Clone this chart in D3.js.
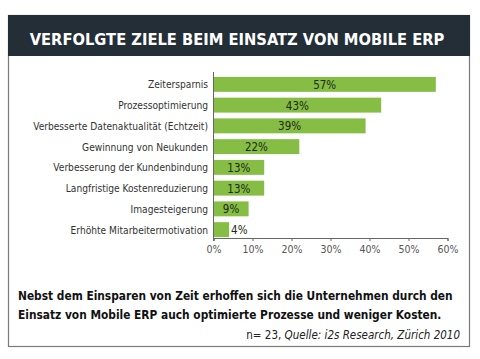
<!DOCTYPE html>
<html><head><meta charset="utf-8">
<script src="https://cdn.jsdelivr.net/npm/d3@7"></script>
<style>body{margin:0;background:#fff}svg{display:block}</style>
</head><body>
<svg id="c" width="480" height="359"></svg>
<script>
const categories = ["Zeitersparnis","Prozessoptimierung","Verbesserte Datenaktualität (Echtzeit)","Gewinnung von Neukunden","Verbesserung der Kundenbindung","Langfristige Kostenreduzierung","Imagesteigerung","Erhöhte Mitarbeitermotivation"];
const values = [57,43,39,22,13,13,9,4];
const ticks = [0,10,20,30,40,50,60];
const title = "VERFOLGTE ZIELE BEIM EINSATZ VON MOBILE ERP";
const caption = ["Nebst dem Einsparen von Zeit erhoffen sich die Unternehmen durch den","Einsatz von Mobile ERP auch optimierte Prozesse und weniger Kosten."];
const sourceA = "n= 23, ", sourceB = "Quelle: i2s Research, Zürich 2010";

const svg = d3.select("#c");
const F = "'DejaVu Sans Condensed', 'DejaVu Sans', sans-serif";

function fit(sel, target, base) {
  const w = sel.node().getComputedTextLength();
  sel.attr("font-size", base * target / w);
}

// frame
svg.append("rect").attr("x",8.5).attr("y",15.5).attr("width",461).attr("height",331)
  .attr("fill","#fff").attr("stroke","#7a7a7a").attr("stroke-width",1.2);
svg.append("rect").attr("x",8).attr("y",15).attr("width",462).attr("height",41).attr("fill","#232e37");
const t = svg.append("text").attr("x",237).attr("y",44.5).attr("text-anchor","middle")
  .attr("font-family",F).attr("font-weight","bold").attr("font-size",20).attr("fill","#fff").text(title);
fit(t, 415, 20);

const x = d3.scaleLinear().domain([0,60]).range([213.5,447.5]);
const y = d3.scaleBand().domain(categories).range([74,240]).paddingInner(0.28).paddingOuter(0.14);

// bars
svg.selectAll("rect.bar").data(values).join("rect").attr("class","bar")
  .attr("x",x(0)).attr("y",(d,i)=>y(categories[i]))
  .attr("width",d=>x(d)-x(0)).attr("height",y.bandwidth()).attr("fill","#85bd45");

// value labels
svg.selectAll("text.val").data(values).join("text").attr("class","val")
  .attr("x",d=>d<6 ? x(d)+2 : (x(0)+x(d))/2).attr("y",(d,i)=>y(categories[i])+y.bandwidth()/2+4.5)
  .attr("text-anchor",d=>d<6?"start":"middle")
  .attr("font-family",F).attr("font-size",11.5).attr("fill","#1e2a14").text(d=>d+"%");

// category labels
const cats = svg.selectAll("text.cat").data(categories).join("text").attr("class","cat")
  .attr("x",208).attr("y",d=>y(d)+y.bandwidth()/2+4)
  .attr("text-anchor","end").attr("font-family",F).attr("font-size",11).attr("fill","#333")
  .text(d=>d);
const longest = cats.filter((d,i)=>i===2);
const cs = 11 * 175 / longest.node().getComputedTextLength();
cats.attr("font-size", Math.min(cs, 11.8));

// axes
const axis = d3.axisBottom(x).tickValues(ticks).tickSize(3).tickFormat(d=>d+"%");
const g = svg.append("g").attr("transform","translate(0,238)").call(axis);
g.select(".domain").attr("stroke","#666");
g.selectAll(".tick line").attr("stroke","#666");
g.selectAll(".tick text").attr("font-family",F).attr("font-size",10.5).attr("fill","#555").attr("dy","0.9em");
svg.append("line").attr("x1",x(0)).attr("x2",x(0)).attr("y1",72).attr("y2",241).attr("stroke","#666");

// caption
const caps = svg.selectAll("text.cap").data(caption).join("text").attr("class","cap")
  .attr("x",18).attr("y",(d,i)=>300+i*19).attr("font-family",F).attr("font-weight","bold")
  .attr("font-size",14.5).attr("fill","#111").text(d=>d);
const c0 = caps.filter((d,i)=>i===0);
const capSize = 14.5 * 435 / c0.node().getComputedTextLength();
caps.attr("font-size", capSize);

const src = svg.append("text").attr("x",460).attr("y",339).attr("text-anchor","end")
  .attr("font-family",F).attr("font-size",11.5).attr("fill","#222");
src.append("tspan").text(sourceA);
src.append("tspan").attr("font-style","italic").text(sourceB);
</script>
</body></html>
